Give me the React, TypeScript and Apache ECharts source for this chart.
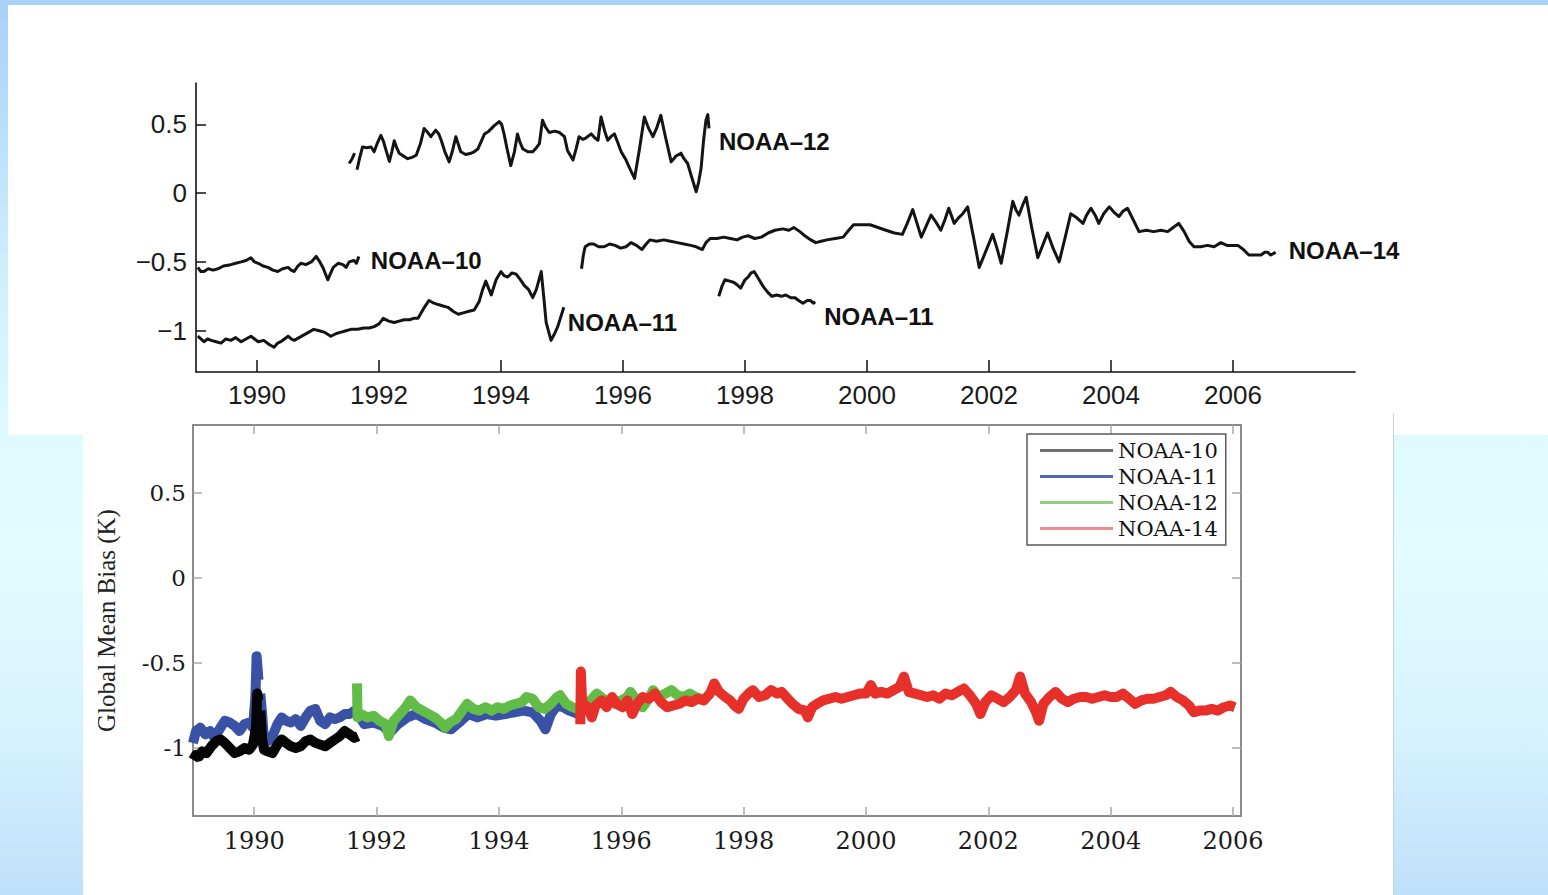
import React, { useEffect, useRef } from 'react';
import * as echarts from 'echarts';

// ---------- tick values ----------
const YEAR_TICKS = [1990, 1992, 1994, 1996, 1998, 2000, 2002, 2004, 2006];
const BIAS_TICKS = [-1, -0.5, 0, 0.5];

// ---------- top panel (offset series, labelled) ----------
const N10_TOP: [number, number][] = [
  [1989.03,-0.54],[1989.08,-0.57],[1989.13,-0.57],[1989.2,-0.55],[1989.28,-0.56],[1989.36,-0.55],[1989.45,-0.53],
  [1989.57,-0.52],[1989.65,-0.51],[1989.74,-0.5],[1989.82,-0.49],[1989.9,-0.47],[1989.96,-0.5],[1990.02,-0.51],
  [1990.1,-0.53],[1990.18,-0.54],[1990.26,-0.56],[1990.34,-0.57],[1990.42,-0.55],[1990.51,-0.54],[1990.56,-0.56],
  [1990.61,-0.57],[1990.67,-0.53],[1990.72,-0.51],[1990.8,-0.52],[1990.89,-0.5],[1990.97,-0.46],[1991.03,-0.5],
  [1991.08,-0.54],[1991.16,-0.63],[1991.21,-0.58],[1991.25,-0.54],[1991.33,-0.51],[1991.41,-0.52],[1991.46,-0.54],
  [1991.51,-0.5],[1991.59,-0.49],[1991.63,-0.51],[1991.67,-0.46]
];
const N11A_TOP: [number, number][] = [
  [1989.03,-1.04],[1989.08,-1.06],[1989.13,-1.08],[1989.19,-1.06],[1989.25,-1.07],[1989.33,-1.08],[1989.41,-1.09],
  [1989.49,-1.06],[1989.57,-1.07],[1989.65,-1.05],[1989.74,-1.08],[1989.82,-1.06],[1989.9,-1.04],[1989.96,-1.06],
  [1990.02,-1.08],[1990.11,-1.07],[1990.2,-1.1],[1990.28,-1.12],[1990.34,-1.09],[1990.39,-1.08],[1990.45,-1.06],
  [1990.51,-1.04],[1990.56,-1.06],[1990.61,-1.07],[1990.69,-1.05],[1990.77,-1.03],[1990.85,-1.01],[1990.93,-0.99],
  [1991.02,-1.0],[1991.1,-1.01],[1991.21,-1.04],[1991.3,-1.02],[1991.38,-1.01],[1991.46,-1.0],[1991.54,-0.99],
  [1991.65,-0.99],[1991.75,-0.98],[1991.84,-0.98],[1991.92,-0.97],[1992.0,-0.95],[1992.07,-0.91],[1992.16,-0.93],
  [1992.25,-0.94],[1992.33,-0.93],[1992.41,-0.92],[1992.5,-0.92],[1992.57,-0.91],[1992.64,-0.91],[1992.73,-0.84],
  [1992.82,-0.78],[1992.9,-0.8],[1992.97,-0.81],[1993.05,-0.82],[1993.13,-0.83],[1993.22,-0.86],[1993.3,-0.88],
  [1993.38,-0.87],[1993.46,-0.86],[1993.56,-0.85],[1993.64,-0.79],[1993.7,-0.7],[1993.75,-0.64],[1993.84,-0.74],
  [1993.92,-0.63],[1994.0,-0.57],[1994.05,-0.6],[1994.11,-0.61],[1994.18,-0.58],[1994.25,-0.59],[1994.32,-0.63],
  [1994.38,-0.67],[1994.45,-0.7],[1994.52,-0.76],[1994.58,-0.7],[1994.66,-0.57],[1994.7,-0.75],[1994.74,-0.94],
  [1994.82,-1.07],[1994.88,-1.02],[1994.93,-0.97],[1995.03,-0.83]
];
const N11B_TOP: [number, number][] = [
  [1997.57,-0.75],[1997.62,-0.68],[1997.67,-0.63],[1997.75,-0.64],[1997.82,-0.65],[1997.88,-0.67],[1997.93,-0.69],
  [1998.0,-0.63],[1998.05,-0.61],[1998.1,-0.58],[1998.15,-0.57],[1998.22,-0.62],[1998.3,-0.68],[1998.37,-0.72],
  [1998.44,-0.75],[1998.52,-0.74],[1998.6,-0.75],[1998.67,-0.74],[1998.75,-0.76],[1998.82,-0.76],[1998.88,-0.78],
  [1998.95,-0.8],[1999.02,-0.78],[1999.07,-0.78],[1999.12,-0.8],[1999.15,-0.79]
];
const N12_TOP: [number, number | null][] = [
  [1991.51,0.215],[1991.56,0.25],[1991.6,0.29],[1991.62,null],[1991.64,0.17],[1991.68,0.25],[1991.73,0.335],
  [1991.8,0.33],[1991.87,0.335],[1991.92,0.3],[1991.97,0.36],[1992.03,0.42],[1992.07,0.38],[1992.11,0.32],
  [1992.17,0.23],[1992.21,0.3],[1992.25,0.38],[1992.29,0.33],[1992.33,0.29],[1992.4,0.27],[1992.47,0.25],
  [1992.54,0.26],[1992.61,0.275],[1992.68,0.36],[1992.74,0.47],[1992.8,0.44],[1992.85,0.41],[1992.93,0.457],
  [1992.98,0.43],[1993.02,0.384],[1993.08,0.3],[1993.15,0.227],[1993.2,0.3],[1993.26,0.41],[1993.34,0.3],
  [1993.42,0.28],[1993.51,0.29],[1993.56,0.3],[1993.62,0.32],[1993.73,0.43],[1993.8,0.45],[1993.89,0.49],
  [1993.97,0.52],[1994.01,0.5],[1994.05,0.43],[1994.1,0.32],[1994.16,0.2],[1994.22,0.3],[1994.27,0.43],
  [1994.31,0.37],[1994.36,0.32],[1994.44,0.3],[1994.52,0.3],[1994.58,0.33],[1994.63,0.36],[1994.68,0.53],
  [1994.73,0.48],[1994.79,0.44],[1994.88,0.45],[1994.96,0.44],[1995.04,0.41],[1995.09,0.31],[1995.18,0.24],
  [1995.23,0.32],[1995.28,0.41],[1995.34,0.39],[1995.39,0.4],[1995.48,0.43],[1995.54,0.4],[1995.59,0.384],
  [1995.64,0.553],[1995.7,0.45],[1995.75,0.384],[1995.8,0.41],[1995.86,0.43],[1995.92,0.36],[1995.97,0.3],
  [1996.05,0.24],[1996.12,0.17],[1996.19,0.107],[1996.27,0.32],[1996.35,0.553],[1996.42,0.47],[1996.49,0.41],
  [1996.55,0.47],[1996.62,0.565],[1996.7,0.4],[1996.79,0.227],[1996.87,0.27],[1996.95,0.29],[1997.0,0.25],
  [1997.06,0.215],[1997.13,0.11],[1997.2,0.01],[1997.24,0.08],[1997.28,0.18],[1997.32,0.38],[1997.36,0.53],
  [1997.39,0.57],[1997.41,0.47]
];
const N14_TOP: [number, number][] = [
  [1995.32,-0.55],[1995.35,-0.45],[1995.38,-0.39],[1995.45,-0.37],[1995.52,-0.37],[1995.6,-0.39],[1995.69,-0.39],
  [1995.78,-0.37],[1995.87,-0.38],[1995.96,-0.4],[1996.05,-0.39],[1996.13,-0.36],[1996.22,-0.38],[1996.31,-0.41],
  [1996.38,-0.37],[1996.44,-0.34],[1996.55,-0.35],[1996.67,-0.34],[1996.78,-0.35],[1996.89,-0.36],[1997.0,-0.37],
  [1997.11,-0.38],[1997.2,-0.39],[1997.3,-0.41],[1997.36,-0.36],[1997.43,-0.33],[1997.54,-0.33],[1997.65,-0.32],
  [1997.76,-0.33],[1997.87,-0.34],[1997.96,-0.32],[1998.05,-0.31],[1998.16,-0.33],[1998.27,-0.32],[1998.38,-0.29],
  [1998.49,-0.27],[1998.62,-0.26],[1998.72,-0.27],[1998.8,-0.25],[1998.9,-0.28],[1998.98,-0.31],[1999.08,-0.34],
  [1999.16,-0.36],[1999.25,-0.35],[1999.34,-0.34],[1999.48,-0.33],[1999.61,-0.32],[1999.7,-0.27],[1999.78,-0.23],
  [1999.9,-0.23],[2000.05,-0.23],[2000.18,-0.25],[2000.31,-0.27],[2000.45,-0.29],[2000.58,-0.3],[2000.66,-0.22],
  [2000.75,-0.12],[2000.82,-0.22],[2000.89,-0.32],[2000.97,-0.24],[2001.05,-0.16],[2001.13,-0.21],[2001.21,-0.27],
  [2001.28,-0.19],[2001.34,-0.11],[2001.43,-0.22],[2001.5,-0.18],[2001.57,-0.15],[2001.65,-0.1],[2001.75,-0.33],
  [2001.84,-0.54],[2001.95,-0.42],[2002.06,-0.3],[2002.13,-0.4],[2002.2,-0.51],[2002.3,-0.28],[2002.39,-0.06],
  [2002.44,-0.12],[2002.49,-0.16],[2002.55,-0.09],[2002.61,-0.03],[2002.7,-0.25],[2002.8,-0.47],[2002.88,-0.38],
  [2002.96,-0.29],[2003.05,-0.4],[2003.15,-0.5],[2003.25,-0.32],[2003.34,-0.15],[2003.44,-0.18],[2003.54,-0.22],
  [2003.6,-0.16],[2003.67,-0.11],[2003.74,-0.16],[2003.8,-0.22],[2003.88,-0.15],[2003.97,-0.1],[2004.05,-0.14],
  [2004.13,-0.17],[2004.2,-0.13],[2004.27,-0.11],[2004.36,-0.19],[2004.46,-0.28],[2004.58,-0.27],[2004.7,-0.28],
  [2004.82,-0.27],[2004.93,-0.28],[2005.02,-0.25],[2005.11,-0.22],[2005.2,-0.28],[2005.28,-0.35],[2005.36,-0.39],
  [2005.47,-0.39],[2005.58,-0.38],[2005.69,-0.39],[2005.8,-0.36],[2005.9,-0.38],[2006.0,-0.38],[2006.08,-0.38],
  [2006.17,-0.41],[2006.26,-0.45],[2006.36,-0.45],[2006.46,-0.45],[2006.52,-0.43],[2006.57,-0.43],[2006.62,-0.45],
  [2006.7,-0.43]
];

// ---------- bottom panel (global mean bias, K) ----------
const N10_BIAS: [number, number | null][] = [
  [1989.0,-1.07],[1989.05,-1.04],[1989.1,-1.05],[1989.15,-1.02],[1989.22,-1.03],[1989.3,-0.99],[1989.38,-0.96],
  [1989.45,-0.95],[1989.52,-0.97],[1989.6,-1.0],[1989.68,-1.03],[1989.76,-1.02],[1989.84,-1.0],[1989.92,-1.01],
  [1989.98,-0.98],[1990.03,-0.88],[1990.05,-0.68],[1990.07,-0.72],[1990.08,null],[1990.1,-0.78],[1990.13,-0.95],
  [1990.16,-1.01],[1990.22,-1.02],[1990.3,-1.03],[1990.38,-0.98],[1990.45,-0.95],[1990.52,-0.97],[1990.6,-0.99],
  [1990.68,-1.0],[1990.76,-0.99],[1990.84,-0.96],[1990.92,-0.95],[1991.0,-0.97],[1991.08,-0.98],[1991.16,-0.99],
  [1991.24,-0.97],[1991.32,-0.95],[1991.4,-0.93],[1991.48,-0.9],[1991.56,-0.92],[1991.64,-0.94],[1991.7,-0.93]
];
const N11_BIAS: [number, number | null][] = [
  [1989.0,-0.97],[1989.05,-0.9],[1989.12,-0.88],[1989.2,-0.92],[1989.28,-0.9],[1989.35,-0.94],[1989.45,-0.88],
  [1989.52,-0.84],[1989.6,-0.85],[1989.68,-0.87],[1989.76,-0.9],[1989.84,-0.86],[1989.92,-0.85],[1989.98,-0.88],
  [1990.02,-0.7],[1990.04,-0.46],[1990.07,-0.6],[1990.08,null],[1990.1,-0.68],[1990.13,-0.8],[1990.16,-0.95],
  [1990.22,-0.96],[1990.3,-0.93],[1990.38,-0.86],[1990.45,-0.82],[1990.52,-0.84],[1990.6,-0.85],[1990.68,-0.83],
  [1990.76,-0.87],[1990.84,-0.82],[1990.92,-0.78],[1991.0,-0.77],[1991.08,-0.84],[1991.16,-0.86],[1991.24,-0.82],
  [1991.32,-0.83],[1991.4,-0.82],[1991.48,-0.8],[1991.56,-0.8],[1991.64,-0.78],[1991.7,-0.8],[1991.8,-0.86],
  [1991.95,-0.85],[1992.1,-0.87],[1992.22,-0.91],[1992.35,-0.86],[1992.5,-0.82],[1992.65,-0.8],[1992.8,-0.83],
  [1992.95,-0.85],[1993.1,-0.88],[1993.22,-0.89],[1993.35,-0.85],[1993.5,-0.8],[1993.65,-0.82],[1993.8,-0.8],
  [1993.95,-0.81],[1994.1,-0.8],[1994.25,-0.79],[1994.4,-0.78],[1994.55,-0.79],[1994.68,-0.84],[1994.76,-0.89],
  [1994.85,-0.8],[1994.95,-0.75],[1995.05,-0.76],[1995.15,-0.78],[1995.3,-0.8]
];
const N12_BIAS: [number, number][] = [
  [1991.68,-0.62],[1991.69,-0.82],[1991.75,-0.8],[1991.85,-0.82],[1991.95,-0.81],[1992.05,-0.84],[1992.15,-0.86],
  [1992.2,-0.93],[1992.28,-0.84],[1992.38,-0.8],[1992.48,-0.76],[1992.55,-0.72],[1992.65,-0.76],[1992.75,-0.78],
  [1992.85,-0.8],[1992.95,-0.82],[1993.05,-0.85],[1993.12,-0.88],[1993.2,-0.85],[1993.3,-0.83],[1993.4,-0.78],
  [1993.48,-0.74],[1993.58,-0.77],[1993.68,-0.78],[1993.78,-0.76],[1993.88,-0.78],[1993.98,-0.76],[1994.08,-0.77],
  [1994.18,-0.75],[1994.28,-0.74],[1994.38,-0.73],[1994.45,-0.7],[1994.55,-0.71],[1994.65,-0.76],[1994.75,-0.77],
  [1994.85,-0.74],[1994.95,-0.7],[1995.0,-0.69],[1995.1,-0.74],[1995.2,-0.76],[1995.3,-0.77],[1995.4,-0.74],
  [1995.5,-0.72],[1995.6,-0.68],[1995.7,-0.71],[1995.8,-0.73],[1995.9,-0.74],[1996.0,-0.72],[1996.1,-0.7],
  [1996.15,-0.67],[1996.25,-0.72],[1996.35,-0.76],[1996.45,-0.71],[1996.52,-0.66],[1996.62,-0.7],[1996.72,-0.68],
  [1996.82,-0.66],[1996.92,-0.69],[1997.02,-0.7],[1997.12,-0.68],[1997.22,-0.7],[1997.32,-0.71]
];
const N14_BIAS: [number, number][] = [
  [1995.33,-0.86],[1995.34,-0.55],[1995.36,-0.73],[1995.45,-0.76],[1995.52,-0.82],[1995.58,-0.75],[1995.68,-0.72],
  [1995.76,-0.76],[1995.85,-0.7],[1995.92,-0.74],[1996.02,-0.76],[1996.1,-0.72],[1996.18,-0.8],[1996.26,-0.74],
  [1996.35,-0.7],[1996.45,-0.71],[1996.55,-0.68],[1996.65,-0.73],[1996.75,-0.76],[1996.85,-0.75],[1996.95,-0.74],
  [1997.05,-0.72],[1997.15,-0.73],[1997.25,-0.71],[1997.35,-0.72],[1997.45,-0.68],[1997.52,-0.62],[1997.6,-0.67],
  [1997.7,-0.7],[1997.78,-0.72],[1997.85,-0.75],[1997.92,-0.77],[1998.0,-0.71],[1998.08,-0.68],[1998.15,-0.66],
  [1998.25,-0.7],[1998.35,-0.69],[1998.45,-0.66],[1998.55,-0.68],[1998.62,-0.67],[1998.72,-0.71],[1998.8,-0.74],
  [1998.9,-0.77],[1999.0,-0.78],[1999.05,-0.82],[1999.12,-0.76],[1999.2,-0.74],[1999.3,-0.72],[1999.4,-0.71],
  [1999.5,-0.7],[1999.6,-0.71],[1999.7,-0.7],[1999.8,-0.69],[1999.9,-0.68],[2000.0,-0.68],[2000.08,-0.63],
  [2000.15,-0.68],[2000.25,-0.67],[2000.35,-0.68],[2000.45,-0.66],[2000.55,-0.64],[2000.62,-0.58],[2000.7,-0.67],
  [2000.8,-0.68],[2000.9,-0.69],[2001.0,-0.7],[2001.1,-0.69],[2001.2,-0.71],[2001.3,-0.68],[2001.4,-0.69],
  [2001.5,-0.67],[2001.6,-0.65],[2001.7,-0.69],[2001.8,-0.74],[2001.87,-0.8],[2001.95,-0.73],[2002.05,-0.69],
  [2002.15,-0.71],[2002.25,-0.73],[2002.35,-0.7],[2002.45,-0.66],[2002.52,-0.58],[2002.6,-0.68],[2002.7,-0.73],
  [2002.78,-0.79],[2002.83,-0.84],[2002.9,-0.74],[2003.0,-0.7],[2003.1,-0.67],[2003.2,-0.71],[2003.3,-0.73],
  [2003.4,-0.71],[2003.5,-0.7],[2003.6,-0.7],[2003.7,-0.71],[2003.8,-0.7],[2003.9,-0.69],[2004.0,-0.7],
  [2004.1,-0.7],[2004.2,-0.68],[2004.3,-0.71],[2004.4,-0.74],[2004.5,-0.72],[2004.6,-0.71],[2004.7,-0.71],
  [2004.8,-0.7],[2004.9,-0.69],[2004.98,-0.67],[2005.08,-0.7],[2005.18,-0.72],[2005.28,-0.75],[2005.36,-0.79],
  [2005.45,-0.78],[2005.55,-0.78],[2005.65,-0.77],[2005.75,-0.78],[2005.85,-0.76],[2005.95,-0.75],[2006.03,-0.76]
];

const LEGEND_NAMES = ['NOAA-10', 'NOAA-11', 'NOAA-12', 'NOAA-14'];
const LEGEND_COLORS = ['#6f6f6f', '#5368b6', '#8fd07e', '#f08c8c'];

const SANS = "'Liberation Sans Narrow', 'Arial Narrow', 'Liberation Sans', Arial, sans-serif";
const SERIF_WIDE = "'DejaVu Serif', 'Liberation Serif', serif";
const SERIF = "'Liberation Serif', 'Times New Roman', serif";

export default function App() {
  const ref = useRef<HTMLDivElement>(null);

  useEffect(() => {
    if (!ref.current) return;
    const chart = echarts.init(ref.current, undefined, { renderer: 'svg' });

    const topLine = (name: string, data: any[], dist: number, off: [number, number]) => ({
      name,
      type: 'line',
      xAxisIndex: 0,
      yAxisIndex: 0,
      data,
      showSymbol: false,
      symbol: 'none',
      lineStyle: { color: '#141414', width: 3, join: 'round' },
      itemStyle: { color: '#141414' },
      z: 3,
      endLabel: {
        show: true,
        formatter: '{a}',
        color: '#111',
        fontFamily: SANS,
        fontWeight: 'bold',
        fontSize: 24,
        distance: dist,
        offset: off,
      },
    });

    const botLine = (name: string, data: any[], color: string, z: number) => ({
      name,
      type: 'line',
      xAxisIndex: 1,
      yAxisIndex: 1,
      data,
      showSymbol: false,
      symbol: 'none',
      lineStyle: { color, width: 10, join: 'round' },
      itemStyle: { color },
      z,
    });

    const option: any = {
      animation: false,
      backgroundColor: 'transparent',
      grid: [
        { left: 196, top: 83, width: 1159, height: 289 },
        { left: 193, top: 425, width: 1048, height: 391 },
      ],
      xAxis: [
        {
          type: 'value', gridIndex: 0, min: 1989, max: 2008,
          axisLine: { onZero: false, lineStyle: { color: '#111', width: 1.6 } },
          axisTick: { inside: true, length: 12, customValues: YEAR_TICKS, lineStyle: { color: '#111', width: 1.5 } },
          axisLabel: {
            customValues: YEAR_TICKS, margin: 10, color: '#1a1a1a',
            fontFamily: SANS, fontSize: 26, formatter: (v: number) => String(v),
          },
          splitLine: { show: false },
        },
        {
          type: 'value', gridIndex: 1, min: 1989, max: 2006.13, position: 'bottom',
          axisLine: { onZero: false, lineStyle: { color: '#8a8a8a', width: 2 } },
          axisTick: { inside: true, length: 9, customValues: YEAR_TICKS, lineStyle: { color: '#a8a8a8', width: 1.5 } },
          axisLabel: {
            customValues: YEAR_TICKS, margin: 13, color: '#1a1a1a',
            fontFamily: SERIF_WIDE, fontSize: 24, formatter: (v: number) => String(v),
          },
          splitLine: { show: false },
        },
        {
          type: 'value', gridIndex: 1, min: 1989, max: 2006.13, position: 'top',
          axisLine: { onZero: false, lineStyle: { color: '#8a8a8a', width: 2 } },
          axisTick: { inside: true, length: 9, customValues: YEAR_TICKS, lineStyle: { color: '#a8a8a8', width: 1.5 } },
          axisLabel: { show: false },
          splitLine: { show: false },
        },
      ],
      yAxis: [
        {
          type: 'value', gridIndex: 0, min: -1.3, max: 0.8,
          axisLine: { show: true, onZero: false, lineStyle: { color: '#111', width: 1.6 } },
          axisTick: { show: true, inside: true, length: 10, customValues: BIAS_TICKS, lineStyle: { color: '#111', width: 1.5 } },
          axisLabel: {
            customValues: BIAS_TICKS, margin: 9, color: '#1a1a1a',
            fontFamily: SANS, fontSize: 26,
            formatter: (v: number) => String(v).replace('-', '\u2212'),
          },
          splitLine: { show: false },
        },
        {
          type: 'value', gridIndex: 1, min: -1.4, max: 0.9, position: 'left',
          name: 'Global Mean Bias (K)', nameLocation: 'middle', nameGap: 74,
          nameTextStyle: { fontFamily: SERIF, fontSize: 25, color: '#222' },
          axisLine: { show: true, onZero: false, lineStyle: { color: '#8a8a8a', width: 2 } },
          axisTick: { show: true, inside: true, length: 9, customValues: BIAS_TICKS, lineStyle: { color: '#a8a8a8', width: 1.5 } },
          axisLabel: {
            customValues: BIAS_TICKS, margin: 7, color: '#1a1a1a',
            fontFamily: SERIF_WIDE, fontSize: 23, formatter: (v: number) => String(v),
          },
          splitLine: { show: false },
        },
        {
          type: 'value', gridIndex: 1, min: -1.4, max: 0.9, position: 'right',
          axisLine: { show: true, onZero: false, lineStyle: { color: '#8a8a8a', width: 2 } },
          axisTick: { show: true, inside: true, length: 9, customValues: BIAS_TICKS, lineStyle: { color: '#a8a8a8', width: 1.5 } },
          axisLabel: { show: false },
          splitLine: { show: false },
        },
      ],
      legend: {
        orient: 'vertical',
        left: 1027,
        top: 434,
        data: LEGEND_NAMES.map((n, i) => ({ name: n, itemStyle: { color: LEGEND_COLORS[i] } })),
        icon: 'rect',
        itemWidth: 73,
        itemHeight: 3,
        itemGap: 5,
        padding: [6, 8, 6, 13],
        borderColor: '#5a5a5a',
        borderWidth: 1.5,
        backgroundColor: '#fff',
        selectedMode: false,
        textStyle: { fontFamily: SERIF_WIDE, fontSize: 21, color: '#111', lineHeight: 20 },
      },
      series: [
        topLine('NOAA\u201310', N10_TOP, 12, [0, 4]),
        topLine('NOAA\u201311', N11A_TOP, 4, [0, 15]),
        topLine('NOAA\u201311', N11B_TOP, 9, [0, 15]),
        topLine('NOAA\u201312', N12_TOP, 10, [0, 13]),
        topLine('NOAA\u201314', N14_TOP, 13, [0, -2]),
        botLine('NOAA-11', N11_BIAS, '#3a52a6', 4),
        botLine('NOAA-10', N10_BIAS, '#050505', 5),
        botLine('NOAA-12', N12_BIAS, '#62bc48', 6),
        botLine('NOAA-14', N14_BIAS, '#e8302a', 7),
      ],
    };

    chart.setOption(option);
    return () => chart.dispose();
  }, []);

  return (
    <div
      style={{
        position: 'fixed', left: 0, top: 0, width: 1548, height: 895, overflow: 'hidden',
        background: 'linear-gradient(to bottom, #a8d1f9 0%, #cdeefe 30%, #e0fbff 50%, #e2fcff 62%, #d6f2fe 82%, #c0e0fa 100%)',
      }}
    >
      <div style={{ position: 'absolute', left: 8, top: 5, width: 1540, height: 430, background: '#fff' }} />
      <div
        style={{
          position: 'absolute', left: 83, top: 413, width: 1310, height: 482, background: '#fff',
          borderRight: '1px solid #c6d3da',
        }}
      />
      <div ref={ref} style={{ position: 'absolute', left: 0, top: 0, width: 1548, height: 895 }} />
    </div>
  );
}
